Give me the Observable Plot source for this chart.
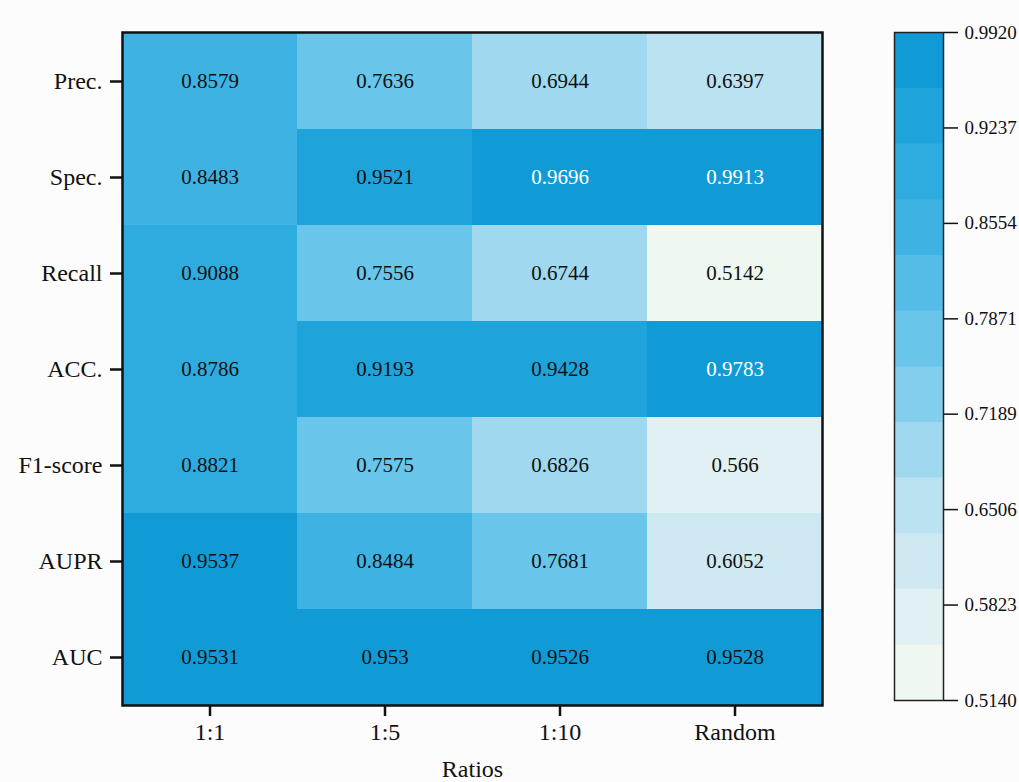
<!DOCTYPE html>
<html>
<head>
<meta charset="utf-8">
<script src="https://cdn.jsdelivr.net/npm/d3@7"></script>
<script src="https://cdn.jsdelivr.net/npm/@observablehq/plot@0.6"></script>
<style>
  html, body { margin: 0; padding: 0; background: #fcfcfc; }
  #wrap { position: relative; width: 1019px; height: 782px; }
  #main { position: absolute; left: 0; top: 0; }
  #bar { position: absolute; left: 880px; top: 0; }
  svg, svg text { font-family: "Liberation Serif", "Times New Roman", serif !important; }
  #main g[aria-label="y-axis tick label"],
  #main g[aria-label="x-axis tick label"] { font-size: 24px !important; fill: #111; }
  #main g[aria-label="cell-values"] { font-size: 21px !important; }
  #main g[aria-label="axis-title"] { font-size: 24px !important; }
  #bar g[aria-label="y-axis tick label"] { font-size: 19px !important; fill: #111; }
</style>
</head>
<body>
<div id="wrap"><div id="main"></div><div id="bar"></div></div>
<script>
// Evaluation metrics per sampling ratio
const ratios = ["1:1", "1:5", "1:10", "Random"];
const metrics = ["Prec.", "Spec.", "Recall", "ACC.", "F1-score", "AUPR", "AUC"];
const precValues   = [0.8579, 0.7636, 0.6944, 0.6397];
const specValues   = [0.8483, 0.9521, 0.9696, 0.9913];
const recallValues = [0.9088, 0.7556, 0.6744, 0.5142];
const accValues    = [0.8786, 0.9193, 0.9428, 0.9783];
const f1Values     = [0.8821, 0.7575, 0.6826, 0.566];
const auprValues   = [0.9537, 0.8484, 0.7681, 0.6052];
const aucValues    = [0.9531, 0.953, 0.9526, 0.9528];
const colorbarTicks = [0.9920, 0.9237, 0.8554, 0.7871, 0.7189, 0.6506, 0.5823, 0.5140];
const xTitle = "Ratios";

const rowsValues = [precValues, specValues, recallValues, accValues, f1Values, auprValues, aucValues];
const cells = metrics.flatMap((m, i) => ratios.map((r, j) => ({metric: m, ratio: r, value: rowsValues[i][j]})));

// Colour ramp (off-white to saturated blue), split into discrete bands
const vMin = 0.514, vMax = 0.992, nBands = 12;
const ramp = d3.scaleLinear()
  .domain([0, 0.15, 0.3, 0.5, 0.7, 0.85, 1])
  .range(["#f4faef", "#ddeef3", "#b8e1f0", "#74caec", "#40b4e3", "#22a7dc", "#0a97d3"])
  .interpolate(d3.interpolateRgb);
const step = (vMax - vMin) / nBands;
const thresholds = d3.range(1, nBands).map(i => vMin + i * step);
const bandColors = d3.range(nBands).map(i => ramp((i + 0.5) / nBands));
const bands = d3.range(nBands).map(i => ({lo: vMin + i * step, hi: vMin + (i + 1) * step, mid: vMin + (i + 0.5) * step}));

const color = {type: "threshold", domain: thresholds, range: bandColors};

const main = Plot.plot({
  width: 880,
  height: 782,
  marginLeft: 122,
  marginTop: 32,
  marginRight: 58,
  marginBottom: 77,
  style: {fontFamily: "Liberation Serif", fontSize: "24px", color: "#111", background: "transparent"},
  x: {domain: ratios, padding: 0},
  y: {domain: metrics, padding: 0},
  color,
  marks: [
    Plot.cell(cells, {x: "ratio", y: "metric", fill: "value", shapeRendering: "crispEdges"}),
    Plot.text(cells, {
      x: "ratio", y: "metric", text: d => String(d.value),
      fill: d => d.value > 0.96 ? "#ffffff" : "#111111",
      fontSize: 21, ariaLabel: "cell-values"
    }),
    Plot.frame({stroke: "#111", strokeWidth: 2.5}),
    Plot.axisX({tickSize: 11, tickPadding: 6, strokeWidth: 2.5, fontSize: 24, label: null}),
    Plot.axisY({tickSize: 12, tickPadding: 8, strokeWidth: 2.5, fontSize: 24, label: null}),
    Plot.text([xTitle], {frameAnchor: "bottom", dy: 71, fontSize: 24, fill: "#111", fontFamily: "Liberation Serif", ariaLabel: "axis-title"})
  ]
});
document.getElementById("main").appendChild(main);

const bar = Plot.plot({
  width: 139,
  height: 782,
  marginTop: 32,
  marginBottom: 82,
  marginLeft: 14,
  marginRight: 76,
  style: {fontFamily: "Liberation Serif", fontSize: "19px", color: "#111", background: "transparent"},
  x: {domain: [0, 1], axis: null},
  y: {domain: [vMin, vMax]},
  color,
  marks: [
    Plot.rect(bands, {x1: 0, x2: 1, y1: "lo", y2: "hi", fill: "mid", stroke: "mid", strokeWidth: 0.5, shapeRendering: "crispEdges"}),
    Plot.frame({stroke: "#222", strokeWidth: 1.5}),
    Plot.axisY({anchor: "right", ticks: colorbarTicks, tickFormat: d3.format(".4f"), tickSize: 14, tickPadding: 7, strokeWidth: 1.5, fontSize: 19, label: null})
  ]
});
document.getElementById("bar").appendChild(bar);
</script>
</body>
</html>
